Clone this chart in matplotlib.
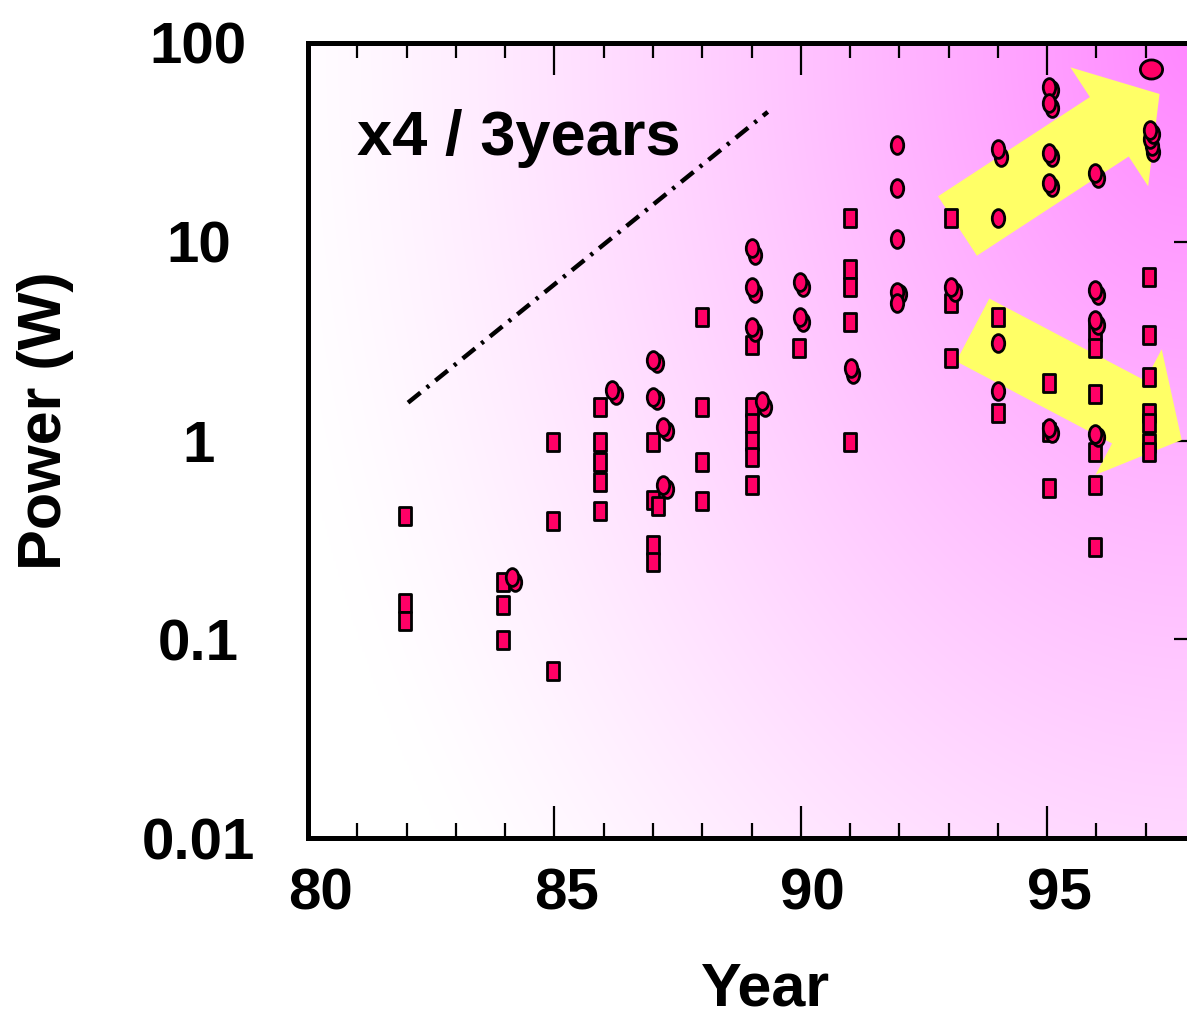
import matplotlib
matplotlib.use('Agg')
import matplotlib.pyplot as plt
import numpy as np
from matplotlib.path import Path
from matplotlib.patches import FancyArrowPatch, ArrowStyle
from matplotlib.transforms import ScaledTranslation, Affine2D
import matplotlib.ticker as mticker

plt.rcParams['font.family'] = ['Liberation Sans', 'DejaVu Sans']
plt.rcParams['font.weight'] = 'bold'

# ---------------- data ----------------
sq_year = [81.97, 81.97, 81.97,
           83.96, 83.96, 83.96,
           84.97, 84.97, 84.97,
           85.92, 85.92, 85.92, 85.92, 85.92,
           87.0, 87.0, 87.10, 87.0, 87.0,
           87.99, 87.99, 87.99, 87.99,
           89.01, 89.01, 89.01, 89.01, 89.01, 89.01,
           89.96,
           90.99, 90.99, 90.99, 90.99, 90.99,
           93.04, 93.04, 93.04,
           94.0, 94.0,
           95.03, 95.03, 95.03,
           95.98, 95.98, 95.98, 95.98, 95.98, 95.98,
           97.06, 97.06, 97.06, 97.06, 97.06, 97.06, 97.06]
sq_power = [0.417, 0.152, 0.124,
            0.194, 0.149, 0.099,
            0.983, 0.394, 0.069,
            1.47, 0.983, 0.779, 0.618, 0.442,
            0.983, 0.502, 0.468, 0.298, 0.245,
            4.18, 1.47, 0.779, 0.496,
            3.02, 1.47, 1.22, 0.994, 0.826, 0.597,
            2.92,
            13.2, 7.3, 5.92, 3.95, 0.983,
            13.2, 4.92, 2.60,
            4.18, 1.38,
            1.95, 1.10, 0.577,
            3.52, 2.92, 1.71, 0.875, 0.597, 0.291,
            6.65, 3.40, 2.09, 1.38, 1.22, 0.971, 0.875]

ci_year = [84.20, 84.14,
           86.25, 86.17,
           87.08, 87.0, 87.08, 87.0, 87.28, 87.20, 87.28, 87.20,
           89.07, 89.01, 89.07, 89.01, 89.07, 89.01, 89.27, 89.21,
           90.04, 89.98, 90.04, 89.98,
           91.05, 91.01,
           91.95, 91.95, 91.95, 92.01, 91.95, 91.95,
           93.12, 93.04,
           94.06, 94.0, 94.0, 94.0, 94.0,
           95.09, 95.03, 95.09, 95.03, 95.09, 95.03, 95.09, 95.03, 95.09, 95.03,
           96.04, 95.98, 96.04, 95.98, 96.04, 95.98, 96.04, 95.98,
           97.14, 97.12, 97.08, 97.14, 97.08]
ci_power = [0.194, 0.206,
            1.69, 1.80,
            2.45, 2.54, 1.60, 1.66, 1.12, 1.17, 0.57, 0.597,
            8.6, 9.3, 5.52, 5.92, 3.52, 3.73, 1.47, 1.58,
            5.92, 6.27, 3.95, 4.18,
            2.16, 2.32,
            30.7, 18.6, 10.3, 5.46, 5.59, 4.92,
            5.59, 5.92,
            26.7, 29.3, 13.2, 3.09, 1.77,
            58.0, 60.1, 47.1, 49.9, 26.7, 28.0, 18.9, 19.8, 1.09, 1.155,
            20.9, 22.2, 5.40, 5.72, 3.81, 4.04, 1.04, 1.078,
            28.3, 30.3, 32.9, 34.8, 36.5]

big_year = [97.10]
big_power = [74.0]

trend_year = [82.03, 89.33]
trend_power = [1.55, 45.0]

arrow_up = [(93.18, 12.0), (97.28, 55.4)]
arrow_down = [(93.49, 3.6), (97.73, 1.006)]

y_ticks = [0.01, 0.1, 1, 10, 100]
y_ticklabels = ['0.01', '0.1', '1', '10', '100']
x_ticks = [80, 85, 90, 95]
x_ticklabels = ['80', '85', '90', '95']

# ---------------- figure ----------------
W, H, DPI = 1187, 1017, 100
fig = plt.figure(figsize=(W / DPI, H / DPI), dpi=DPI)
fig.patch.set_facecolor('white')
ax = fig.add_axes([308 / W, (H - 838) / H, 887 / W, 795 / H])
ax.set_xlim(80, 98)
ax.set_yscale('log')
ax.set_ylim(0.01, 100)

# gradient background
nx, ny = 400, 400
u = np.linspace(0, 1, nx)[None, :]
v = np.linspace(1, 0, ny)[:, None]
r = np.sqrt(((1 - u) / 1.05) ** 2 + ((1 - v) / 1.7) ** 2)
t = np.clip(1 - r, 0, 1) ** 1.25
c0 = np.array([1.0, 1.0, 1.0])
c1 = np.array([1.0, 135 / 255, 1.0])
img = c0[None, None, :] * (1 - t[..., None]) + c1[None, None, :] * t[..., None]
ax.imshow(img, extent=[0, 1, 0, 1], transform=ax.transAxes, aspect='auto',
          zorder=0, interpolation='bilinear')

# arrows
for (pa, pb) in (arrow_up, arrow_down):
    arr = FancyArrowPatch(posA=pa, posB=pb,
                          arrowstyle=ArrowStyle.Simple(head_length=0.6, head_width=1.42, tail_width=0.71),
                          mutation_scale=72, color='#FFFF66', lw=0,
                          shrinkA=0, shrinkB=0, zorder=2)
    ax.add_patch(arr)

# trend line
ax.plot(trend_year, trend_power, color='black', lw=3.2,
        linestyle=(0, (3.6, 1.8, 0.7, 1.8)), zorder=3)

# markers
ell = Affine2D().scale(0.70, 1.0).transform_path(Path.unit_circle())
ell_big = Affine2D().scale(1.0, 0.86).transform_path(Path.unit_circle())
sq = Path([(-0.64, -1), (0.64, -1), (0.64, 1), (-0.64, 1), (-0.64, -1)], closed=True)
mcol = '#FF0066'
ax.plot(sq_year, sq_power, linestyle='none', marker=sq, ms=13.2,
        mfc=mcol, mec='black', mew=2.0, zorder=4)
ax.plot(ci_year, ci_power, linestyle='none', marker=ell, ms=12.8,
        mfc=mcol, mec='black', mew=2.0, zorder=5)
ax.plot(big_year, big_power, linestyle='none', marker=ell_big, ms=16,
        mfc=mcol, mec='black', mew=2.0, zorder=5)

# text
ax.text((357 - 308) / 887, (838 - 155) / 795, 'x4 / 3years',
        transform=ax.transAxes, fontsize=45.5, fontweight='bold',
        ha='left', va='baseline', zorder=6)

# spines
for s in ax.spines.values():
    s.set_linewidth(3.6)
    s.set_zorder(7)

# ticks
ax.xaxis.set_major_locator(mticker.FixedLocator(x_ticks))
ax.xaxis.set_major_formatter(mticker.FixedFormatter(x_ticklabels))
ax.xaxis.set_minor_locator(mticker.FixedLocator(list(range(80, 99))))
ax.yaxis.set_major_locator(mticker.FixedLocator(y_ticks))
ax.yaxis.set_major_formatter(mticker.FixedFormatter(y_ticklabels))
ax.yaxis.set_minor_locator(mticker.NullLocator())

ax.tick_params(axis='x', which='major', direction='in', top=True, bottom=True,
               length=23, width=1.6, labelsize=42, pad=21)
ax.tick_params(axis='x', which='minor', direction='in', top=True, bottom=True,
               length=10.5, width=1.6)
ax.tick_params(axis='y', which='major', direction='in', left=False, right=True,
               length=15, width=1.6, labelsize=42, pad=79, labelleft=True)
for lab in ax.get_yticklabels():
    lab.set_horizontalalignment('center')
    lab.set_fontweight('bold')
for tk in ax.xaxis.get_major_ticks():
    tk.label1.set_fontweight('bold')
    tk.label1.set_transform(tk.label1.get_transform() +
                            ScaledTranslation(12 / DPI, 0, fig.dpi_scale_trans))

# axis labels
ax.set_xlabel('Year', fontsize=44, fontweight='bold')
ax.xaxis.set_label_coords((766 - 308) / 887, (838 - 962) / 795)
ax.set_ylabel('Power (W)', fontsize=44, fontweight='bold')
ax.yaxis.set_label_coords((74 - 308) / 887, (838 - 421) / 795)

fig.savefig('out.png', dpi=DPI)
